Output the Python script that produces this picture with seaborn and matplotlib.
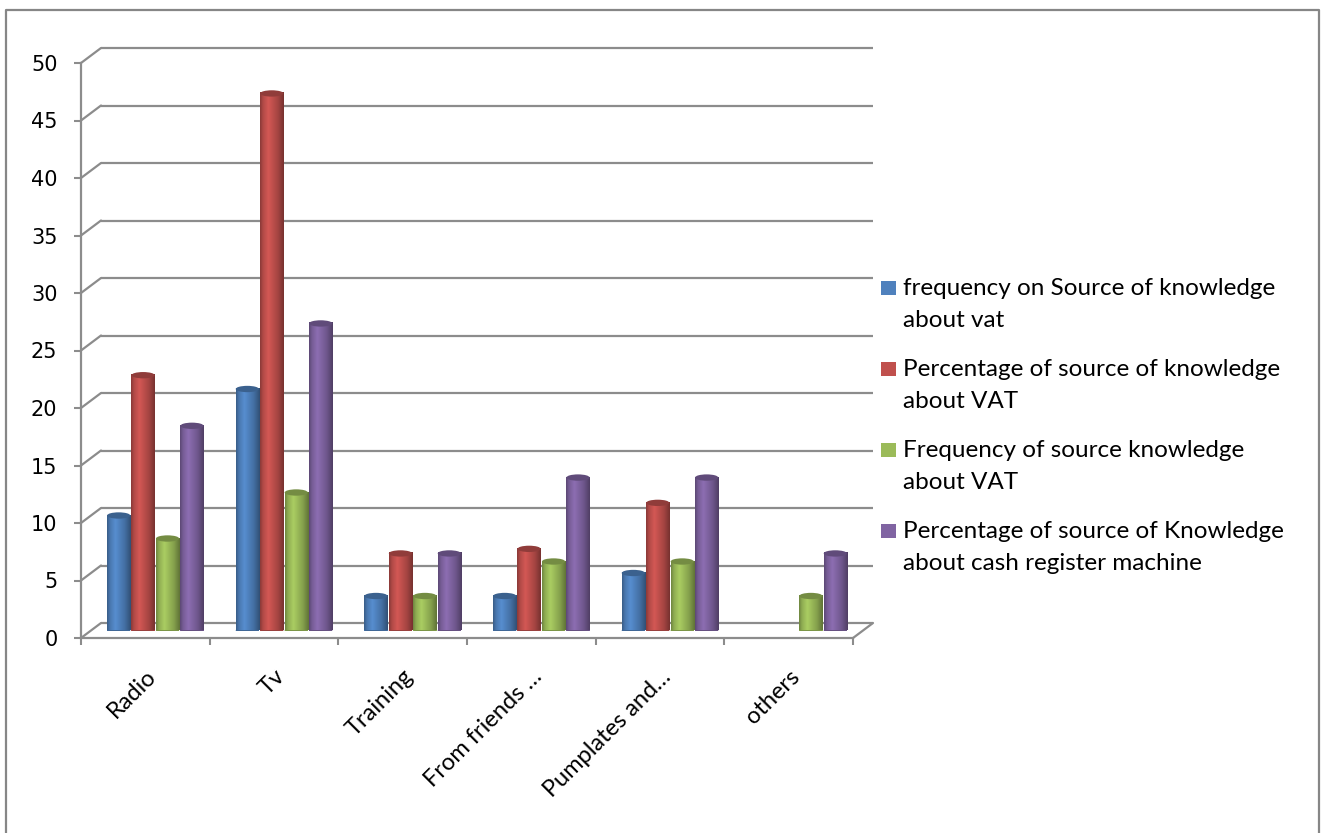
import numpy as np
import pandas as pd
import matplotlib
matplotlib.use("Agg")
import matplotlib.pyplot as plt
import matplotlib.transforms as mtransforms
from matplotlib.lines import Line2D
from matplotlib.patches import Rectangle, Ellipse
import seaborn as sns

# ---------------- data ----------------
categories = ["Radio", "Tv", "Training", "From friends \u2026", "Pumplates and\u2026", "others"]
series_names = [
    "frequency on Source of knowledge\nabout vat",
    "Percentage of source of knowledge\nabout VAT",
    "Frequency of source knowledge\nabout VAT",
    "Percentage of source of Knowledge\nabout cash register machine",
]
freq_vat = [10, 21, 3, 3, 5, 0]
pct_vat = [22.2, 46.7, 6.7, 7.1, 11.1, 0]
freq_src = [8, 12, 3, 6, 6, 3]
pct_crm = [17.8, 26.7, 6.7, 13.3, 13.3, 6.7]
yticks = [0, 5, 10, 15, 20, 25, 30, 35, 40, 45, 50]
colors = ["#4F81BD", "#C0504D", "#9BBB59", "#8064A2"]

values = [freq_vat, pct_vat, freq_src, pct_crm]
df = pd.DataFrame({
    "category": categories * len(series_names),
    "series": np.repeat(series_names, len(categories)),
    "value": np.concatenate(values),
})

# ---------------- style ----------------
sns.set_theme(style="white")
plt.rcParams["font.family"] = ["Lato", "DejaVu Sans"]
GRAY = "#8c8c8c"

W, H = 1326, 833
fig = plt.figure(figsize=(W / 100, H / 100), dpi=100)
fig.patch.set_facecolor("white")


def rect(left, right, y0, y50):
    return [left / W, (H - y0) / H, (right - left) / W, (y0 - y50) / H]


ax_back = fig.add_axes(rect(101, 873, 623, 48), zorder=0)
ax_mid = fig.add_axes(rect(91, 863, 630.5, 55.5), zorder=1)
ax_front = fig.add_axes(rect(81, 853, 638, 63), zorder=2)
for a in (ax_back, ax_mid, ax_front):
    a.set_facecolor("none")

# ---------------- back wall: gridlines ----------------
ax_back.set_xlim(-0.5, len(categories) - 0.5)
ax_back.set_ylim(0, 50)
ax_back.hlines(yticks, -0.5, len(categories) - 0.5, color=GRAY, lw=1.6, clip_on=False)
ax_back.axis("off")

# ---------------- bars ----------------
sns.barplot(data=df, x="category", y="value", hue="series", order=categories,
            hue_order=series_names, palette=colors, saturation=1, width=0.76,
            gap=0.05, linewidth=0, legend=False, ax=ax_mid)
ax_mid.set_xlim(-0.5, len(categories) - 0.5)
ax_mid.set_ylim(0, 50)

# cylinder-like shading
t = np.linspace(0, 1, 60)
shade = np.interp(t, [0, 0.12, 0.35, 0.75, 1.0], [0.72, 0.92, 1.1, 0.86, 0.62])
for p in list(ax_mid.patches):
    h = p.get_height()
    if h <= 0:
        continue
    x, w = p.get_x(), p.get_width()
    base = np.array(matplotlib.colors.to_rgb(p.get_facecolor()))
    img = np.clip(base[None, None, :] * shade[None, :, None], 0, 1)
    ax_mid.imshow(img, extent=[x, x + w, 0, h], aspect="auto", zorder=3,
                  interpolation="bilinear")
    ax_mid.add_patch(Ellipse((x + w / 2, h), w, 0.55, facecolor=base * 0.75,
                             edgecolor="none", zorder=4))
    ax_mid.add_patch(Ellipse((x + w / 2, 0), w, 0.55, facecolor=base * 0.8,
                             edgecolor="none", zorder=2.9))
ax_mid.set_xlim(-0.5, len(categories) - 0.5)
ax_mid.set_ylim(0, 50)
ax_mid.axis("off")

# ---------------- front frame: axes, ticks, labels ----------------
ax_front.set_xlim(-0.5, len(categories) - 0.5)
ax_front.set_ylim(0, 50)
for s in ("top", "right"):
    ax_front.spines[s].set_visible(False)
for s in ("left", "bottom"):
    ax_front.spines[s].set_color(GRAY)
    ax_front.spines[s].set_linewidth(1.6)
ax_front.set_yticks(yticks)
ax_front.set_yticklabels([str(v) for v in yticks], family="DejaVu Sans", fontsize=15)
ax_front.set_xticks(np.arange(-0.5, len(categories), 1.0))
ax_front.set_xticklabels([])
ax_front.set_xticks(np.arange(len(categories)), minor=True)
ax_front.set_xticklabels(categories, minor=True, rotation=45, ha="right",
                         rotation_mode="anchor", fontsize=17)
ax_front.tick_params(axis="y", which="major", direction="out", length=5, width=1.5,
                     color=GRAY, pad=12, left=True, labelcolor="black")
ax_front.tick_params(axis="x", which="major", direction="out", length=5, width=1.5,
                     color=GRAY, bottom=True)
ax_front.tick_params(axis="x", which="minor", length=0, pad=20, bottom=True,
                     labelcolor="black")
ax_front.set_xlabel("")
ax_front.set_ylabel("")

# diagonal connectors front -> back wall
ident = mtransforms.IdentityTransform()
for yt in yticks:
    p0 = ax_front.transData.transform((-0.5, yt))
    p1 = ax_back.transData.transform((-0.5, yt))
    fig.add_artist(Line2D([p0[0], p1[0]], [p0[1], p1[1]], transform=ident,
                          color=GRAY, lw=1.6))
p0 = ax_front.transData.transform((len(categories) - 0.5, 0))
p1 = ax_back.transData.transform((len(categories) - 0.5, 0))
fig.add_artist(Line2D([p0[0], p1[0]], [p0[1], p1[1]], transform=ident, color=GRAY, lw=1.6))

# ---------------- legend ----------------
for i, (name, c) in enumerate(zip(series_names, colors)):
    base_y = 295 + 81 * i
    fig.add_artist(Rectangle((881 / W, 1 - base_y / H), 15 / W, 14 / H,
                             transform=fig.transFigure, facecolor=c, edgecolor="none"))
    for j, line in enumerate(name.split("\n")):
        fig.text(903 / W, 1 - (base_y + 32 * j) / H, line, va="baseline", ha="left",
                 fontsize=17.5, color="black")

# ---------------- outer frame ----------------
fig.add_artist(Line2D([6 / W, 6 / W, 1319 / W, 1319 / W], [0, 1 - 10 / H, 1 - 10 / H, 0],
                      transform=fig.transFigure, color="#868686", lw=1.6))

fig.savefig("out.png", dpi=100)
